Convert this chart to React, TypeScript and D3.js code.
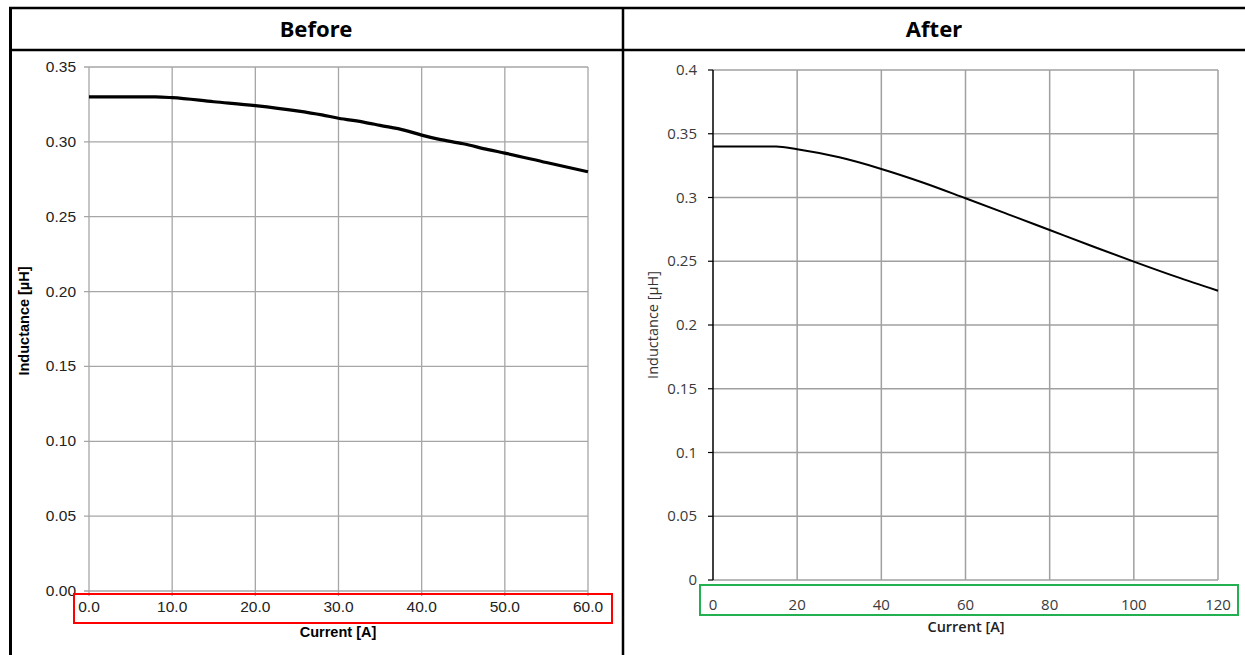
import * as d3 from "d3";
import { useEffect, useRef } from "react";

// Before: current [A] vs inductance [uH]
const beforeCurrent = [0, 8, 10, 15, 20, 25, 28, 30, 33, 35, 38, 40, 42, 45, 48, 50, 55, 60];
const beforeInductance = [0.330, 0.330, 0.3295, 0.3268, 0.3242, 0.3207, 0.318, 0.3158, 0.3132, 0.3110, 0.3077, 0.3045, 0.3018, 0.2987, 0.2948, 0.2925, 0.2862, 0.280];
const beforeXTicks = [0, 10, 20, 30, 40, 50, 60];
const beforeYTicks = [0, 0.05, 0.1, 0.15, 0.2, 0.25, 0.3, 0.35];

// After
const afterCurrent = [0, 15, 20, 30, 40, 50, 60, 70, 80, 90, 100, 110, 120];
const afterInductance = [0.340, 0.340, 0.3378, 0.3315, 0.3224, 0.3116, 0.2994, 0.287, 0.2745, 0.262, 0.2497, 0.2379, 0.2269];
const afterXTicks = [0, 20, 40, 60, 80, 100, 120];
const afterYTicks = [0, 0.05, 0.1, 0.15, 0.2, 0.25, 0.3, 0.35, 0.4];

const headers = ["Before", "After"];

const App = () => {
    const ref = useRef(null);

    useEffect(() => {
        const svg = d3.select(ref.current);
        svg.selectAll("*").remove();

        // table frame
        const frame = svg.append("g").attr("stroke", "#000");
        frame.append("line").attr("x1", 9).attr("x2", 1245).attr("y1", 8).attr("y2", 8).attr("stroke-width", 2.5);
        frame.append("line").attr("x1", 9).attr("x2", 1245).attr("y1", 50).attr("y2", 50).attr("stroke-width", 2.5);
        frame.append("line").attr("x1", 10.5).attr("x2", 10.5).attr("y1", 7).attr("y2", 655).attr("stroke-width", 3);
        frame.append("line").attr("x1", 623).attr("x2", 623).attr("y1", 7).attr("y2", 655).attr("stroke-width", 2.5);

        svg.selectAll(".hdr")
            .data(headers)
            .enter()
            .append("text")
            .attr("x", (d, i) => (i === 0 ? 316 : 934))
            .attr("y", 37)
            .attr("text-anchor", "middle")
            .style("font-family", "'Noto Sans', sans-serif")
            .style("font-weight", "bold")
            .style("font-size", "22px")
            .text(d => d);

        // ---------- Before chart ----------
        const bx = d3.scaleLinear().domain([0, 60]).range([89, 588]);
        const by = d3.scaleLinear().domain([0, 0.35]).range([591, 67]);
        const gb = svg.append("g").style("font-family", "'Liberation Sans', Arial, sans-serif");

        gb.selectAll(".vg").data(beforeXTicks).enter().append("line")
            .attr("x1", d => bx(d)).attr("x2", d => bx(d))
            .attr("y1", by(0.35)).attr("y2", by(0) + 5)
            .attr("stroke", "#a6a6a6").attr("stroke-width", 1.3);
        gb.selectAll(".hg").data(beforeYTicks).enter().append("line")
            .attr("x1", bx(0) - 5).attr("x2", bx(60))
            .attr("y1", d => by(d)).attr("y2", d => by(d))
            .attr("stroke", "#a6a6a6").attr("stroke-width", 1.3);

        gb.selectAll(".yl").data(beforeYTicks).enter().append("text")
            .attr("x", 76).attr("y", d => by(d) + 5)
            .attr("text-anchor", "end")
            .style("font-size", "15.5px").attr("fill", "#222")
            .text(d => d3.format(".2f")(d));
        gb.selectAll(".xl").data(beforeXTicks).enter().append("text")
            .attr("x", d => bx(d)).attr("y", 612)
            .attr("text-anchor", "middle")
            .style("font-size", "15.5px").attr("fill", "#222")
            .text(d => d3.format(".1f")(d));

        gb.append("text").attr("x", 338).attr("y", 637).attr("text-anchor", "middle")
            .style("font-size", "14.5px").style("font-weight", "bold").text("Current [A]");
        gb.append("text").attr("transform", "translate(29,321) rotate(-90)").attr("text-anchor", "middle")
            .style("font-size", "14.5px").style("font-weight", "bold").text("Inductance [µH]");

        const beforeLine = d3.line()
            .x(d => bx(d[0]))
            .y(d => by(d[1]))
            .curve(d3.curveMonotoneX);
        gb.append("path")
            .datum(beforeCurrent.map((c, i) => [c, beforeInductance[i]]))
            .attr("d", beforeLine)
            .attr("fill", "none").attr("stroke", "#000").attr("stroke-width", 3.2);

        gb.append("rect").attr("x", 74).attr("y", 594).attr("width", 538).attr("height", 29)
            .attr("fill", "none").attr("stroke", "#ff0000").attr("stroke-width", 2);

        // ---------- After chart ----------
        const ax = d3.scaleLinear().domain([0, 120]).range([713, 1218]);
        const ay = d3.scaleLinear().domain([0, 0.4]).range([580, 70]);
        const ga = svg.append("g").style("font-family", "'Open Sans', sans-serif");

        ga.selectAll(".vg").data(afterXTicks.slice(1)).enter().append("line")
            .attr("x1", d => ax(d)).attr("x2", d => ax(d))
            .attr("y1", ay(0.4)).attr("y2", ay(0))
            .attr("stroke", "#a0a0a0").attr("stroke-width", 1.5);
        ga.selectAll(".hg").data(afterYTicks).enter().append("line")
            .attr("x1", ax(0)).attr("x2", ax(120))
            .attr("y1", d => ay(d)).attr("y2", d => ay(d))
            .attr("stroke", "#a0a0a0").attr("stroke-width", 1.5);
        ga.selectAll(".tk").data(afterYTicks).enter().append("line")
            .attr("x1", ax(0) - 5).attr("x2", ax(0))
            .attr("y1", d => ay(d)).attr("y2", d => ay(d))
            .attr("stroke", "#000").attr("stroke-width", 1.2);
        ga.append("line").attr("x1", ax(0)).attr("x2", ax(0)).attr("y1", ay(0.4)).attr("y2", ay(0))
            .attr("stroke", "#000").attr("stroke-width", 1.5);

        ga.selectAll(".yl").data(afterYTicks).enter().append("text")
            .attr("x", 697).attr("y", d => ay(d) + 5)
            .attr("text-anchor", "end")
            .style("font-size", "15px").attr("fill", "#3a3a3a")
            .text(d => d3.format("")(d));
        ga.selectAll(".xl").data(afterXTicks).enter().append("text")
            .attr("x", d => ax(d)).attr("y", 610)
            .attr("text-anchor", "middle")
            .style("font-size", "15px").attr("fill", "#3a3a3a")
            .text(d => d3.format("")(d));

        ga.append("text").attr("x", 966).attr("y", 632).attr("text-anchor", "middle")
            .style("font-size", "14.5px").style("font-weight", 600).attr("fill", "#222").text("Current [A]");
        ga.append("text").attr("transform", "translate(658,325) rotate(-90)").attr("text-anchor", "middle")
            .style("font-size", "14.5px").attr("fill", "#333").text("Inductance [µH]");

        const afterLine = d3.line()
            .x(d => ax(d[0]))
            .y(d => ay(d[1]))
            .curve(d3.curveMonotoneX);
        ga.append("path")
            .datum(afterCurrent.map((c, i) => [c, afterInductance[i]]))
            .attr("d", afterLine)
            .attr("fill", "none").attr("stroke", "#000").attr("stroke-width", 2);

        ga.append("rect").attr("x", 700).attr("y", 585).attr("width", 538).attr("height", 30)
            .attr("fill", "none").attr("stroke", "#22b050").attr("stroke-width", 2);
    }, []);

    return (
        <svg ref={ref} width={1245} height={655}
            style={{ position: "absolute", left: 0, top: 0, background: "#fff" }}></svg>
    );
};

export default App;
